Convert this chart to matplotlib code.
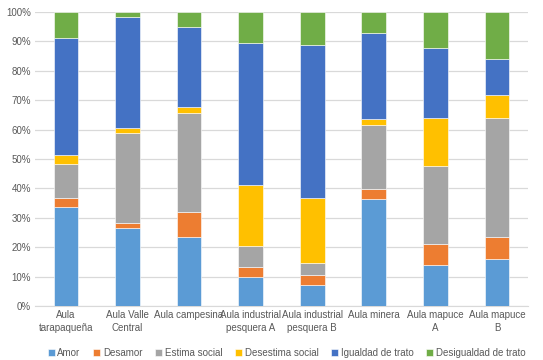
import numpy as np
import matplotlib
matplotlib.use('Agg')
import matplotlib.pyplot as plt
from matplotlib.ticker import PercentFormatter

plt.rcParams['font.family'] = ['Liberation Sans', 'DejaVu Sans']

categories = ['Aula\ntarapaqueña', 'Aula Valle\nCentral', 'Aula campesina',
              'Aula industrial\npesquera A', 'Aula industrial\npesquera B',
              'Aula minera', 'Aula mapuce\nA', 'Aula mapuce\nB']

series_names = ['Amor', 'Desamor', 'Estima social', 'Desestima social',
                'Igualdad de trato', 'Desigualdad de trato']

amor = [33.8, 26.5, 23.5, 10.0, 7.0, 36.3, 13.8, 15.9]
desamor = [2.9, 1.8, 8.5, 3.4, 3.7, 3.4, 7.4, 7.7]
estima = [11.6, 30.4, 33.8, 7.0, 3.8, 22.0, 26.3, 40.2]
desestima = [2.9, 1.7, 1.9, 20.8, 22.3, 1.9, 16.6, 8.0]
igualdad = [40.1, 37.8, 27.1, 48.4, 51.9, 29.1, 23.8, 12.1]
desigualdad = [8.7, 1.8, 5.2, 10.4, 11.3, 7.3, 12.1, 16.1]

colors = ['#5B9BD5', '#ED7D31', '#A5A5A5', '#FFC000', '#4472C4', '#70AD47']

data = np.array([amor, desamor, estima, desestima, igualdad, desigualdad])
data = data / data.sum(axis=0) * 100

fig = plt.figure(figsize=(5.43, 3.6), dpi=100)
ax = fig.add_axes([0.0645, 0.15, 0.9075, 0.8167])

x = np.arange(len(categories))
bottom = np.zeros(len(categories))
for name, vals, c in zip(series_names, data, colors):
    ax.bar(x, vals, 0.4, bottom=bottom, color=c, label=name,
           edgecolor='white', linewidth=0.4, zorder=3)
    bottom += vals

ax.set_xlim(-0.5, len(categories) - 0.5)
ax.set_ylim(0, 100)
ax.set_yticks(np.arange(0, 101, 10))
ax.yaxis.set_major_formatter(PercentFormatter(decimals=0))
ax.set_xticks(x)
ax.set_xticklabels(categories, linespacing=1.4)
ax.grid(axis='y', color='#D9D9D9', linewidth=0.9, zorder=0)
for s in ['top', 'right', 'left']:
    ax.spines[s].set_visible(False)
ax.spines['bottom'].set_color('#D9D9D9')
ax.tick_params(axis='both', length=0, labelsize=7, colors='#595959', pad=3)

leg = fig.legend(loc='center', bbox_to_anchor=(0.528, 0.02), ncol=6, frameon=False,
                 fontsize=7, handlelength=0.7, handleheight=0.7, handletextpad=0.3,
                 columnspacing=1.3, labelcolor='#595959')

fig.savefig('out.png', dpi=100)
